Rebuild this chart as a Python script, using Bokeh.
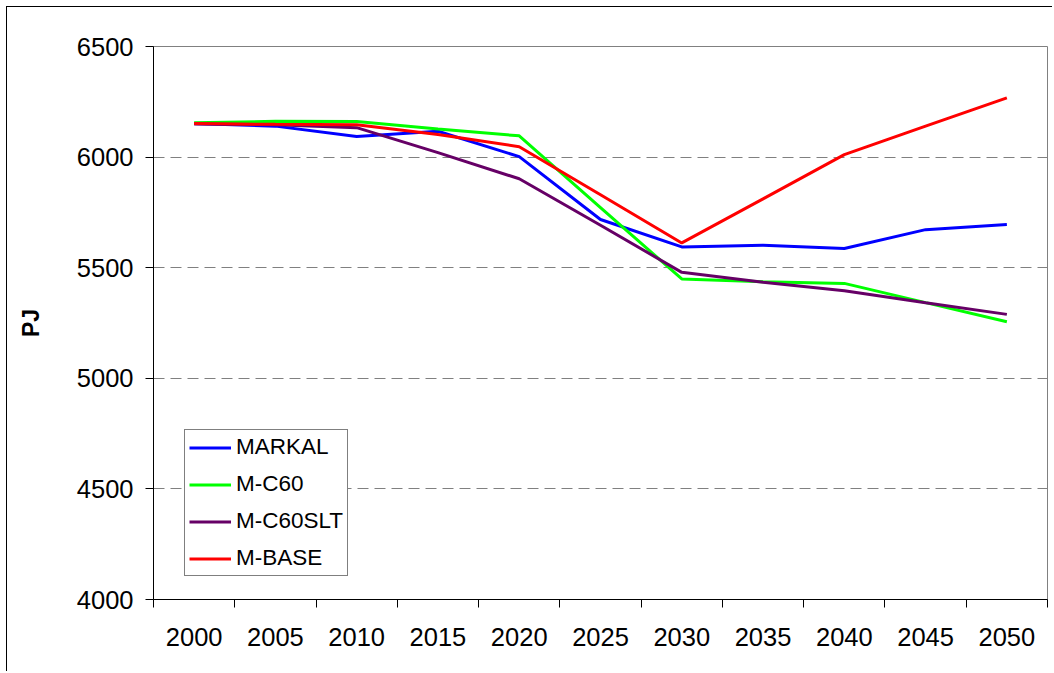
from bokeh.plotting import figure
from bokeh.models import Range1d, FixedTicker, Legend, LegendItem
from bokeh.embed import file_html
from bokeh.resources import INLINE

years = [2000, 2005, 2010, 2015, 2020, 2025, 2030, 2035, 2040, 2045, 2050]
markal = [6152, 6140, 6093, 6117, 6002, 5718, 5594, 5602, 5587, 5672, 5695]
m_c60 = [6155, 6162, 6161, 6127, 6096, 5772, 5449, 5436, 5429, 5342, 5256]
m_c60slt = [6150, 6146, 6133, 6020, 5902, 5692, 5479, 5434, 5396, 5342, 5289]
m_base = [6152, 6148, 6146, 6102, 6047, 5830, 5612, 5811, 6011, 6140, 6268]
y_ticks = [4000, 4500, 5000, 5500, 6000, 6500]
grid_levels = [4500, 5000, 5500, 6000]

series = [
    ("MARKAL", markal, "#0000FF"),
    ("M-C60", m_c60, "#00FF00"),
    ("M-C60SLT", m_c60slt, "#660066"),
    ("M-BASE", m_base, "#FF0000"),
]

FONT = "Liberation Sans"

p = figure(width=1046, height=665, output_backend="svg", toolbar_location=None,
           x_range=Range1d(years[0] - 2.5, years[-1] + 2.5),
           y_range=Range1d(y_ticks[0], y_ticks[-1]),
           min_border_left=146, min_border_right=6, min_border_top=39, min_border_bottom=73)
p.styles = {"margin-left": "6px", "margin-top": "6px",
            "border-left": "1px solid #000000", "border-top": "1px solid #000000"}
p.outline_line_color = "#808080"
p.outline_line_width = 1
p.background_fill_color = "white"
p.border_fill_color = "white"

renderers = []
for name, vals, col in series:
    r = p.line(years, vals, line_color=col, line_width=3)
    renderers.append((name, r))

# x axis
xa = p.xaxis[0]
xa.ticker = FixedTicker(ticks=years, minor_ticks=[y - 2.5 for y in years] + [years[-1] + 2.5])
xa.major_tick_out = 0
xa.major_tick_in = 0
xa.minor_tick_out = 8
xa.minor_tick_in = 0
xa.minor_tick_line_color = "black"
xa.axis_line_color = "black"
xa.major_label_text_font = FONT
xa.major_label_text_font_size = "25.5px"
xa.major_label_text_color = "black"
xa.major_label_standoff = 20

# y axis
ya = p.yaxis[0]
ya.ticker = FixedTicker(ticks=y_ticks, minor_ticks=[])
ya.major_tick_out = 8
ya.major_tick_in = 0
ya.major_tick_line_color = "black"
ya.axis_line_color = "black"
ya.major_label_text_font = FONT
ya.major_label_text_font_size = "25.5px"
ya.major_label_text_color = "black"
ya.major_label_standoff = 12
ya.axis_label = "PJ"
ya.axis_label_text_font = FONT
ya.axis_label_text_font_size = "23px"
ya.axis_label_text_font_style = "bold"
ya.axis_label_text_color = "black"
ya.axis_label_standoff = 30

p.xgrid.visible = False
p.ygrid.ticker = FixedTicker(ticks=grid_levels)
p.ygrid.grid_line_color = "#808080"
p.ygrid.grid_line_dash = "11 6"
p.ygrid.grid_line_width = 1

legend = Legend(items=[LegendItem(label=n, renderers=[r]) for n, r in renderers],
                location=(31, 23), margin=0, padding=4, spacing=11,
                glyph_width=42, glyph_height=25, label_height=25, label_standoff=5,
                label_text_font=FONT, label_text_font_size="22.5px", label_text_color="black",
                border_line_color="black", border_line_width=1, background_fill_color="white",
                background_fill_alpha=1)
p.add_layout(legend)

open("out.html", "w").write(file_html(p, INLINE))
